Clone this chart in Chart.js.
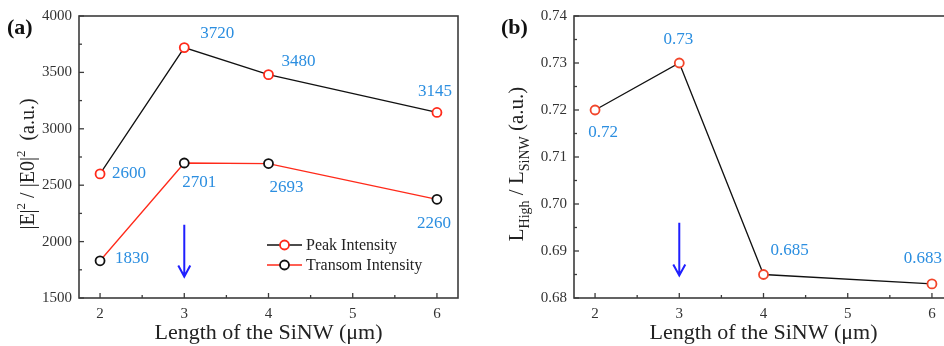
<!DOCTYPE html>
<html>
<head>
<meta charset="utf-8">
<script src="https://cdn.jsdelivr.net/npm/chart.js@4.4.1/dist/chart.umd.min.js"></script>
<style>
html, body { margin: 0; padding: 0; background: #fff; overflow: hidden; }
#wrap { position: relative; width: 944px; height: 346px; overflow: hidden; }
#chartA { position: absolute; left: 0; top: 0; }
#chartB { position: absolute; left: 472px; top: 0; }
</style>
</head>
<body>
<div id="wrap">
  <canvas id="chartA" width="472" height="346"></canvas>
  <canvas id="chartB" width="490" height="346"></canvas>
</div>
<script>
// nanowire lengths (µm)
const lengths = [2, 3, 4, 6];
const peakIntensity = [2600, 3720, 3480, 3145];
const transomIntensity = [1830, 2697, 2692, 2375];
const peakLabels = ['2600', '3720', '3480', '3145'];
const transomLabels = ['1830', '2701', '2693', '2260'];
const ratio = [0.72, 0.73, 0.685, 0.683];
const ratioLabels = ['0.72', '0.73', '0.685', '0.683'];

const xTicks = [2, 3, 4, 5, 6];
const yTicksA = [1500, 2000, 2500, 3000, 3500, 4000];
const yTicksB = [0.68, 0.69, 0.70, 0.71, 0.72, 0.73, 0.74];

// blue arrow: x, start y, end y
const arrowA = [3, 2150, 1690];
const arrowB = [3, 0.696, 0.6848];

const SERIF = '"Liberation Serif", "Times New Roman", serif';
const BLUE = '#2b8ee0';
const RED = '#ff2a1a';
const INK = '#222';

// text with sup (1) / sub (-1) parts, centred on x,y
function richText(ctx, parts, x, y, size, rotate) {
    ctx.save();
    ctx.translate(x, y);
    if (rotate) ctx.rotate(-Math.PI / 2);
    const small = Math.round(size * 0.65);
    let total = 0;
    parts.forEach(p => {
        ctx.font = (p[1] ? small : size) + 'px ' + SERIF;
        total += ctx.measureText(p[0]).width;
    });
    let cx = -total / 2;
    ctx.fillStyle = INK;
    ctx.textAlign = 'left';
    ctx.textBaseline = 'alphabetic';
    parts.forEach(p => {
        ctx.font = (p[1] ? small : size) + 'px ' + SERIF;
        const dy = p[1] === 1 ? -size * 0.42 : p[1] === -1 ? size * 0.28 : 0;
        ctx.fillText(p[0], cx, size * 0.33 + dy);
        cx += ctx.measureText(p[0]).width;
    });
    ctx.restore();
}

const decor = {
    id: 'decor',
    beforeDatasetsDraw(chart, args, o) {
        const ctx = chart.ctx;
        const { left, right, top, bottom } = chart.chartArea;
        const xs = chart.scales.x, ys = chart.scales.y;
        ctx.save();
        ctx.strokeStyle = '#3c3c3c';
        ctx.lineWidth = 1.6;
        ctx.strokeRect(left, top, right - left, bottom - top);
        ctx.lineWidth = 1.3;
        const seg = (x1, y1, x2, y2) => { ctx.beginPath(); ctx.moveTo(x1, y1); ctx.lineTo(x2, y2); ctx.stroke(); };
        xs.ticks.forEach((t, i) => {
            const px = xs.getPixelForValue(t.value);
            seg(px, bottom, px, bottom - 5);
            if (i < xs.ticks.length - 1) {
                const m = xs.getPixelForValue((t.value + xs.ticks[i + 1].value) / 2);
                seg(m, bottom, m, bottom - 3);
            }
        });
        ys.ticks.forEach((t, i) => {
            const py = ys.getPixelForValue(t.value);
            seg(left, py, left + 5, py);
            if (i < ys.ticks.length - 1) {
                const m = ys.getPixelForValue((t.value + ys.ticks[i + 1].value) / 2);
                seg(left, m, left + 3, m);
            }
        });
        ctx.restore();
    },
    afterDraw(chart, args, o) {
        const ctx = chart.ctx;
        const { left, right, top, bottom } = chart.chartArea;
        const xs = chart.scales.x, ys = chart.scales.y;
        ctx.save();

        // value labels
        ctx.font = '17px ' + SERIF;
        ctx.fillStyle = BLUE;
        ctx.textAlign = 'center';
        ctx.textBaseline = 'middle';
        o.labels.forEach(set => {
            const meta = chart.getDatasetMeta(set.dataset);
            meta.data.forEach((pt, i) => {
                ctx.fillText(set.text[i], pt.x + set.offsets[i][0], pt.y + set.offsets[i][1]);
            });
        });

        // arrow
        const ax = xs.getPixelForValue(o.arrow[0]);
        const ay1 = ys.getPixelForValue(o.arrow[1]);
        const ay2 = ys.getPixelForValue(o.arrow[2]);
        ctx.strokeStyle = '#1f1fff';
        ctx.lineWidth = 2;
        ctx.beginPath();
        ctx.moveTo(ax, ay1); ctx.lineTo(ax, ay2);
        ctx.moveTo(ax - 6, ay2 - 11); ctx.lineTo(ax, ay2); ctx.lineTo(ax + 6, ay2 - 11);
        ctx.stroke();

        // legend
        if (o.legend) {
            const lg = o.legend;
            chart.data.datasets.forEach((ds, i) => {
                const y = lg.y + i * lg.gap;
                ctx.strokeStyle = ds.borderColor;
                ctx.lineWidth = 1.3;
                ctx.beginPath(); ctx.moveTo(lg.x, y); ctx.lineTo(lg.x + 35, y); ctx.stroke();
                ctx.fillStyle = '#fff';
                ctx.strokeStyle = ds.pointBorderColor;
                ctx.lineWidth = 1.8;
                ctx.beginPath(); ctx.arc(lg.x + 17.5, y, 4.5, 0, Math.PI * 2); ctx.fill(); ctx.stroke();
                ctx.fillStyle = INK;
                ctx.font = '16px ' + SERIF;
                ctx.textAlign = 'left';
                ctx.textBaseline = 'middle';
                ctx.fillText(ds.label, lg.x + 39, y + 1);
            });
        }

        // panel tag
        ctx.fillStyle = '#111';
        ctx.font = 'bold 22px ' + SERIF;
        ctx.textAlign = 'left';
        ctx.textBaseline = 'middle';
        ctx.fillText(o.tag[0], o.tag[1], o.tag[2]);

        // axis titles
        richText(ctx, [['Length of the SiNW (\u03bcm)', 0]], (left + right) / 2, 332, 22, false);
        richText(ctx, o.yTitle, o.yTitleX, 164, o.yTitleSize, true);
        ctx.restore();
    }
};

function scaleOpts(yMin, yMax, yTicks, yFmt, yWidth) {
    const tickFont = { family: SERIF, size: 15 };
    return {
        x: {
            type: 'linear', min: 1.75, max: 6.25,
            afterBuildTicks: s => { s.ticks = xTicks.map(v => ({ value: v })); },
            afterFit: s => { s.height = 48; },
            grid: { display: false, drawTicks: false }, border: { display: false },
            ticks: { padding: 7, color: '#333', font: tickFont, maxRotation: 0, autoSkip: false, callback: v => String(v) }
        },
        y: {
            min: yMin, max: yMax,
            afterBuildTicks: s => { s.ticks = yTicks.map(v => ({ value: v })); },
            afterFit: s => { s.width = yWidth; },
            grid: { display: false, drawTicks: false }, border: { display: false },
            ticks: { padding: 7, color: '#333', font: tickFont, autoSkip: false, callback: yFmt }
        }
    };
}

function lineSet(label, values, lineColor, pointColor) {
    return {
        label: label,
        data: lengths.map((x, i) => ({ x: x, y: values[i] })),
        borderColor: lineColor,
        borderWidth: 1.3,
        pointRadius: 4.5,
        pointBorderWidth: 1.8,
        pointBorderColor: pointColor,
        pointBackgroundColor: '#fff',
        tension: 0,
        clip: false
    };
}

new Chart(document.getElementById('chartA'), {
    type: 'line',
    data: {
        datasets: [
            lineSet('Peak Intensity', peakIntensity, '#111', RED),
            lineSet('Transom Intensity', transomIntensity, RED, '#111')
        ]
    },
    options: {
        responsive: false,
        animation: false,
        layout: { padding: { left: 0, right: 14, top: 16, bottom: 0 } },
        scales: scaleOpts(1500, 4000, yTicksA, v => String(v), 79),
        plugins: {
            legend: { display: false },
            tooltip: { enabled: false },
            decor: {
                labels: [
                    { dataset: 0, text: peakLabels, offsets: [[29, 0], [33, -14], [30, -13], [-2, -21]] },
                    { dataset: 1, text: transomLabels, offsets: [[32, -2], [15, 20], [18, 24], [-3, 24]] }
                ],
                arrow: arrowA,
                legend: { x: 267, y: 245, gap: 20 },
                tag: ['(a)', 7, 28],
                yTitle: [['|E|', 0], ['2', 1], [' / |E0|', 0], ['2', 1], ['  (a.u.)', 0]],
                yTitleX: 27,
                yTitleSize: 20
            }
        }
    },
    plugins: [decor]
});

new Chart(document.getElementById('chartB'), {
    type: 'line',
    data: {
        datasets: [
            lineSet('Ratio', ratio, '#111', '#f2452a')
        ]
    },
    options: {
        responsive: false,
        animation: false,
        layout: { padding: { left: 0, right: 9, top: 16, bottom: 0 } },
        scales: scaleOpts(0.68, 0.74, yTicksB, v => v.toFixed(2), 102),
        plugins: {
            legend: { display: false },
            tooltip: { enabled: false },
            decor: {
                labels: [
                    { dataset: 0, text: ratioLabels, offsets: [[8, 23], [-1, -23], [26, -24], [-9, -25]] }
                ],
                arrow: arrowB,
                legend: null,
                tag: ['(b)', 29, 28],
                yTitle: [['L', 0], ['High', -1], [' / L', 0], ['SiNW', -1], [' (a.u.)', 0]],
                yTitleX: 44,
                yTitleSize: 21
            }
        }
    },
    plugins: [decor]
});
</script>
</body>
</html>
